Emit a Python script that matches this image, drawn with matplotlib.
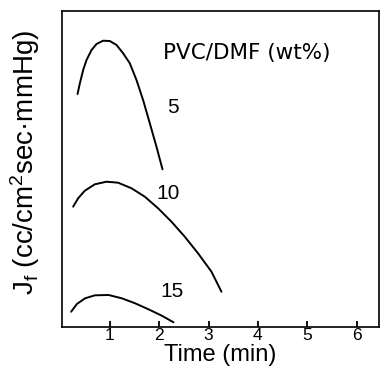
import matplotlib
matplotlib.use("Agg")
import matplotlib.pyplot as plt

plt.rcParams['font.family'] = ['Liberation Sans', 'DejaVu Sans']
plt.rcParams['mathtext.default'] = 'regular'

# Series (time in min, flux in arbitrary units)
t5 = [0.346, 0.393, 0.46, 0.528, 0.63, 0.73, 0.864, 1.0, 1.136, 1.27,
      1.405, 1.54, 1.674, 1.81, 1.945, 2.067]
j5 = [233, 243.7, 257, 267, 277, 283, 286.3, 286, 282, 273.7,
      263.7, 247, 227, 203.7, 180.3, 157.7]

t10 = [0.257, 0.358, 0.494, 0.696, 0.933, 1.168, 1.44, 1.709, 1.978,
       2.249, 2.518, 2.787, 3.059, 3.261]
j10 = [120.3, 128.7, 136.3, 142.7, 145.3, 144.3, 138.7, 130.3, 118.7,
       105.3, 90.3, 73.7, 55.3, 35.3]

t15 = [0.217, 0.332, 0.50, 0.70, 0.974, 1.243, 1.512, 1.783, 2.053, 2.29]
j15 = [15.3, 23, 28.7, 31.7, 32, 28.7, 23.7, 17.7, 11.3, 4.7]

series_labels = ["5", "10", "15"]
xticks = [1, 2, 3, 4, 5, 6]

fig = plt.figure(figsize=(3.8, 3.67), dpi=100)
ax = fig.add_axes([0.163, 0.109, 0.834, 0.861])

for t, j in [(t5, j5), (t10, j10), (t15, j15)]:
    ax.plot(t, j, color='black', lw=1.4, solid_capstyle='round',
            solid_joinstyle='round')

ax.set_xlim(0.03, 6.45)
ax.set_ylim(0, 316)
ax.set_xticks(xticks)
ax.set_xticklabels([str(v) for v in xticks], fontsize=12.5)
ax.set_yticks([])
ax.tick_params(axis='x', direction='in', length=4, width=1.3, pad=1)
for s in ax.spines.values():
    s.set_linewidth(1.2)

ax.text(2.07, 274, "PVC/DMF (wt%)", fontsize=15.5, va='center', ha='left',
        family=['DejaVu Sans'])
ax.text(2.28, 220, series_labels[0], fontsize=15, va='center', ha='center')
ax.text(2.17, 134, series_labels[1], fontsize=15, va='center', ha='center')
ax.text(2.26, 35, series_labels[2], fontsize=15, va='center', ha='center')

ax.set_xlabel("Time (min)", fontsize=17, labelpad=0.5)
ax.set_ylabel("J$_f$ (cc/cm$^2$sec·mmHg)", fontsize=20)
ax.yaxis.set_label_coords(-0.063, 0.522)

fig.savefig("out.png", dpi=100)
